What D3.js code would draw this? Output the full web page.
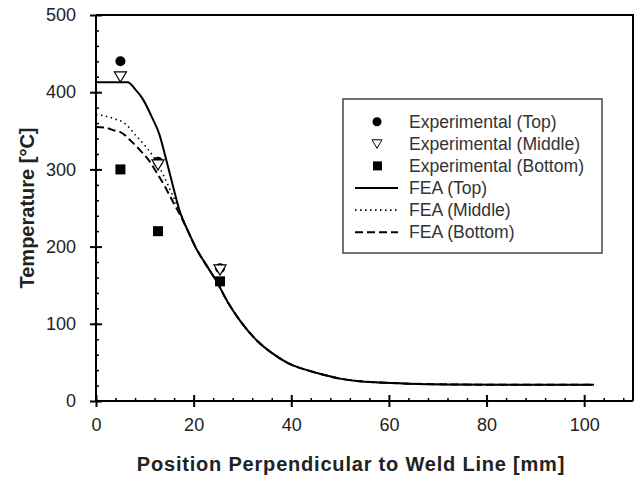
<!DOCTYPE html>
<html>
<head>
<meta charset="utf-8">
<script src="https://cdn.jsdelivr.net/npm/d3@7"></script>
<style>
  body { margin: 0; background: #fff; }
  svg { display: block; font-family: Arial, "Liberation Sans", sans-serif; }
</style>
</head>
<body>
<svg width="637" height="477"></svg>
<script>
// experimental thermocouple readings [mm, degC]
var expTop = [[5, 440], [12.7, 310], [25.4, 172]];
var expMiddle = [[5, 420], [12.7, 306], [25.4, 170]];
var expBottom = [[5, 300], [12.7, 220], [25.4, 155]];

// FEA curves [mm, degC]
var feaTop = [[0, 413], [3, 413], [6.5, 413], [8, 404], [9.5, 392], [11.5, 367], [13, 345], [14, 322],
  [15.5, 285], [17.3, 243], [19, 218], [20.4, 199], [22.5, 177], [24.6, 156], [27, 128], [29.5, 104],
  [33, 78], [36.3, 61], [40, 47], [43.2, 40], [46.6, 34], [50, 29], [53.4, 26], [58, 24], [64, 22.5],
  [72, 21.5], [85, 21], [102, 21]];
var feaMiddle = [[0, 371], [2, 369], [4, 365], [5.6, 361], [8.3, 343], [10, 331], [11.9, 315], [14, 290],
  [16, 262], [17.5, 241], [19, 218], [20.4, 199], [22.5, 177], [24.6, 156], [27, 128], [29.5, 104],
  [33, 78], [36.3, 61], [40, 47], [43.2, 40], [46.6, 34], [50, 29], [53.4, 26], [58, 24], [64, 22.5],
  [72, 21.5], [85, 21], [102, 21]];
var feaBottom = [[0, 355], [2, 354], [4, 350], [4.8, 349], [7.3, 336], [9, 325], [10.8, 312], [12.5, 295],
  [14.2, 277], [15.6, 260], [17.3, 240], [19, 218], [20.4, 199], [22.5, 177], [24.6, 156], [27, 128],
  [29.5, 104], [33, 78], [36.3, 61], [40, 47], [43.2, 40], [46.6, 34], [50, 29], [53.4, 26], [58, 24],
  [64, 22.5], [72, 21.5], [85, 21], [102, 21]];

var xTicks = [0, 20, 40, 60, 80, 100];
var yTicks = [0, 100, 200, 300, 400, 500];
var legendLabels = ["Experimental (Top)", "Experimental (Middle)", "Experimental (Bottom)",
  "FEA (Top)", "FEA (Middle)", "FEA (Bottom)"];

var svg = d3.select("svg");
var x = d3.scaleLinear().domain([0, 110]).range([96, 633]);
var y = d3.scaleLinear().domain([0, 500]).range([401, 15]);
var textColor = "#222";

// frame top + right
svg.append("path")
  .attr("d", "M" + x(0) + "," + y(500) + "H" + x(110) + "V" + y(0))
  .attr("fill", "none").attr("stroke", "#000").attr("stroke-width", 2);

// minor ticks
var xMinor = d3.range(0, 111, 4).filter(function(d){ return d % 20 !== 0; });
var yMinor = d3.range(0, 501, 20).filter(function(d){ return d % 100 !== 0; });
svg.append("g").attr("transform", "translate(0," + y(0) + ")")
  .call(d3.axisBottom(x).tickValues(xMinor).tickSize(-3).tickFormat(""))
  .call(function(g){ g.select(".domain").remove(); })
  .selectAll("line").attr("stroke-width", 1.5);
svg.append("g").attr("transform", "translate(" + x(0) + ",0)")
  .call(d3.axisLeft(y).tickValues(yMinor).tickSize(-3).tickFormat(""))
  .call(function(g){ g.select(".domain").remove(); })
  .selectAll("line").attr("stroke-width", 1.5);

// major axes
var gx = svg.append("g").attr("transform", "translate(0," + y(0) + ")")
  .call(d3.axisBottom(x).tickValues(xTicks).tickSizeOuter(0).tickPadding(11));
gx.select(".domain").attr("d", "M" + x(0) + ",0H" + x(110)).attr("stroke-width", 2);
gx.selectAll(".tick line").attr("y1", -6).attr("y2", 6).attr("stroke-width", 2);
gx.selectAll(".tick text").attr("font-size", 18).attr("fill", textColor)
  .attr("font-family", "Arial, 'Liberation Sans', sans-serif");

var gy = svg.append("g").attr("transform", "translate(" + x(0) + ",0)")
  .call(d3.axisLeft(y).tickValues(yTicks).tickSizeOuter(0).tickPadding(14));
gy.select(".domain").attr("d", "M0," + y(0) + "V" + y(500)).attr("stroke-width", 2);
gy.selectAll(".tick line").attr("x1", -6).attr("x2", 6).attr("stroke-width", 2);
gy.selectAll(".tick text").attr("font-size", 18).attr("fill", textColor)
  .attr("font-family", "Arial, 'Liberation Sans', sans-serif");

// axis titles
svg.append("text").attr("x", 351).attr("y", 471).attr("text-anchor", "middle")
  .attr("font-size", 20).attr("font-weight", "bold").attr("letter-spacing", 0.8).attr("fill", textColor)
  .text("Position Perpendicular to Weld Line [mm]");
svg.append("text").attr("transform", "translate(34,208) rotate(-90)").attr("text-anchor", "middle")
  .attr("font-size", 20).attr("font-weight", "bold").attr("fill", textColor)
  .text("Temperature [°C]");

// FEA lines
var line = d3.line().curve(d3.curveMonotoneX)
  .x(function(d){ return x(d[0]); }).y(function(d){ return y(d[1]); });
var styles = [
  { data: feaTop, dash: null, w: 2 },
  { data: feaMiddle, dash: "1.5,3.5", w: 1.6 },
  { data: feaBottom, dash: "8,4", w: 2 }
];
styles.forEach(function(s){
  svg.append("path").datum(s.data).attr("d", line)
    .attr("fill", "none").attr("stroke", "#000").attr("stroke-width", s.w)
    .attr("stroke-dasharray", s.dash);
});

// markers
function tri(size){ return "M" + (-size) + "," + (-size * 0.8) + "H" + size + "L0," + (size * 0.9) + "Z"; }
svg.selectAll(".c").data(expTop).enter().append("circle")
  .attr("cx", function(d){ return x(d[0]); }).attr("cy", function(d){ return y(d[1]); })
  .attr("r", 5).attr("fill", "#000");
svg.selectAll(".t").data(expMiddle).enter().append("path")
  .attr("transform", function(d){ return "translate(" + x(d[0]) + "," + y(d[1]) + ")"; })
  .attr("d", tri(6)).attr("fill", "#fff").attr("stroke", "#000").attr("stroke-width", 1.2);
svg.selectAll(".s").data(expBottom).enter().append("rect")
  .attr("x", function(d){ return x(d[0]) - 5; }).attr("y", function(d){ return y(d[1]) - 5; })
  .attr("width", 10).attr("height", 10).attr("fill", "#000");

// legend
svg.append("rect").attr("x", 343).attr("y", 99).attr("width", 259).attr("height", 154)
  .attr("fill", "#fff").attr("stroke", "#444").attr("stroke-width", 1.5);
var lg = svg.selectAll(".lg").data(legendLabels).enter().append("g")
  .attr("transform", function(d, i){ return "translate(0," + (121.7 + i * 22.1) + ")"; });
lg.append("text").attr("x", 409).attr("dy", "0.35em").attr("font-size", 17.6).attr("fill", "#333")
  .text(function(d){ return d; });
lg.each(function(d, i){
  var g = d3.select(this);
  if (i === 0) g.append("circle").attr("cx", 377).attr("r", 4.5).attr("fill", "#000");
  else if (i === 1) g.append("path").attr("transform", "translate(377,0)").attr("d", tri(5))
    .attr("fill", "#fff").attr("stroke", "#000").attr("stroke-width", 1);
  else if (i === 2) g.append("rect").attr("x", 373).attr("y", -4.5).attr("width", 9).attr("height", 9).attr("fill", "#000");
  else {
    var s = styles[i - 3];
    g.append("line").attr("x1", 355).attr("x2", 398)
      .attr("stroke", "#000").attr("stroke-width", s.w).attr("stroke-dasharray", s.dash);
  }
});
</script>
</body>
</html>
